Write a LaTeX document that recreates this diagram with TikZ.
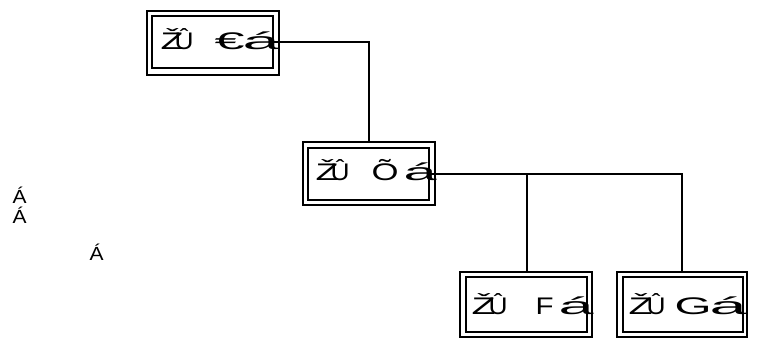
\documentclass[tikz,border=0pt]{standalone}
\usepackage{fontspec}
\setmainfont{Liberation Sans}
\usepackage{graphicx}
\newcommand\glyphat[3]{\rlap{\hspace*{#1pt}\resizebox{#2pt}{\height}{#3}}}
\tikzset{
  outerbox/.style={draw, line width=1.5pt, rectangle, inner sep=0pt},
  innerbox/.style={draw, line width=1.5pt, rectangle, inner sep=0pt},
  boxtext/.style={anchor=base west, inner sep=0pt, font=\fontsize{24}{26}\selectfont},
  sidetext/.style={anchor=base west, inner sep=0pt, font=\fontsize{19}{21}\selectfont},
  link/.style={draw, line width=1.3pt}
}
\begin{document}
\begin{tikzpicture}[x=1pt,y=-1pt]
\useasboundingbox[fill=white] (0,0) rectangle (757,342);
% box 1
\node[outerbox, minimum width=132pt, minimum height=64pt] (b1o) at (213,43) {};
\node[innerbox, minimum width=121pt, minimum height=52pt] (b1i) at (212.5,42) {};
% box 2
\node[outerbox, minimum width=132pt, minimum height=63pt] (b2o) at (369,173.5) {};
\node[innerbox, minimum width=121pt, minimum height=52pt] (b2i) at (368.5,174) {};
% box 3
\node[outerbox, minimum width=132pt, minimum height=65pt] (b3o) at (526,304.5) {};
\node[innerbox, minimum width=121pt, minimum height=55pt] (b3i) at (526.5,304.5) {};
% box 4
\node[outerbox, minimum width=130pt, minimum height=65pt] (b4o) at (682,304.5) {};
\node[innerbox, minimum width=120pt, minimum height=55pt] (b4i) at (683,304.5) {};
% connectors
\coordinate (j) at (527,174);
\draw[link] (b1i.east) -| (b2o.north);
\draw[link] (b2i.east) -| (b4o.north);
\draw[link] (j) -- (j |- b3o.north);
% texts
\node[boxtext] (t1) at (160,50) {\glyphat{0}{23}{Ž}\glyphat{14}{19}{Û}\glyphat{54}{30}{€}\glyphat{82}{37}{á}};
\node[boxtext] (t2) at (315,180) {\glyphat{0}{23}{Ž}\glyphat{15}{19}{Û}\glyphat{56}{27}{Õ}\glyphat{88}{33}{á}};
\node[boxtext] (t3) at (471,314) {\glyphat{0}{24}{Ž}\glyphat{17}{19}{Û}\glyphat{64}{18}{F}\glyphat{87}{35}{á}};
\node[boxtext] (t4) at (628,314) {\glyphat{0}{24}{Ž}\glyphat{18}{19}{Û}\glyphat{46}{37}{G}\glyphat{81}{37}{á}};
\node[sidetext] (s1) at (12,203) {\glyphat{0}{14}{Á}};
\node[sidetext] (s2) at (12,223) {\glyphat{0}{14}{Á}};
\node[sidetext] (s3) at (89,260) {\glyphat{0}{14}{Á}};
\end{tikzpicture}
\end{document}
